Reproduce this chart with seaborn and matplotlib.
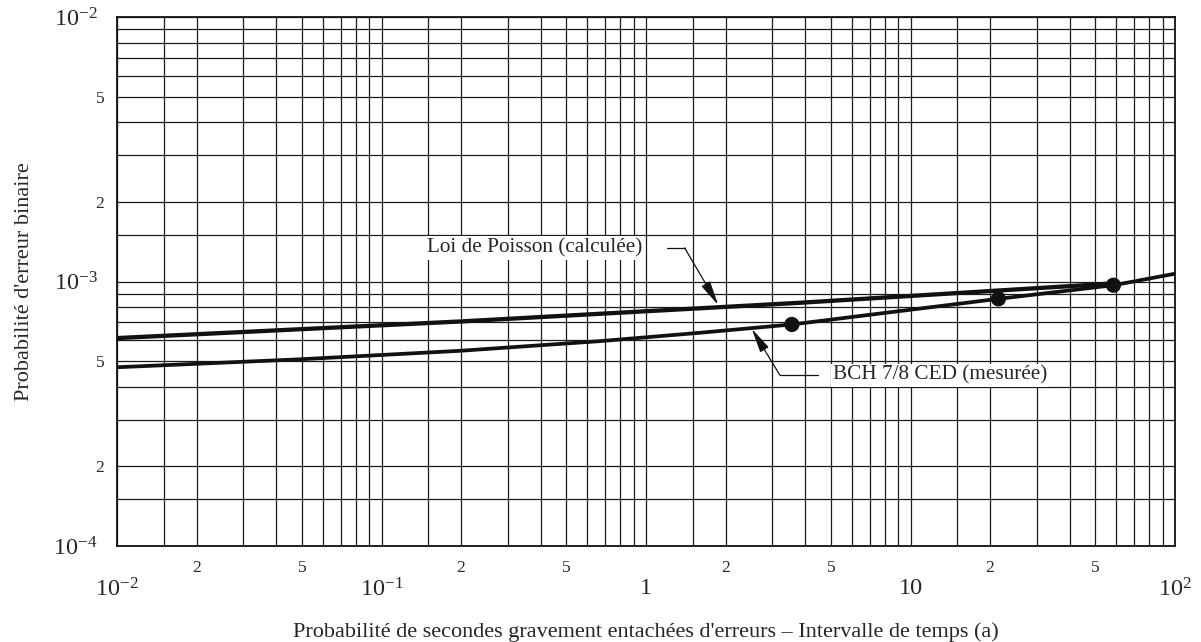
import numpy as np
import pandas as pd
import matplotlib
matplotlib.use("Agg")
import matplotlib.pyplot as plt
from matplotlib.ticker import FixedLocator, FuncFormatter
import seaborn as sns

# ---- data ----
poisson_x = [0.01, 0.198, 3.82, 58.3]
poisson_y = [6.11e-4, 7.06e-4, 8.31e-4, 9.83e-4]

bch_x = [0.01, 0.0492, 0.198, 0.67, 1.6, 3.56, 21.5, 58.5, 100]
bch_y = [4.74e-4, 5.08e-4, 5.47e-4, 5.95e-4, 6.4e-4, 6.88e-4, 8.6e-4, 9.68e-4, 1.07e-3]

meas_x = [3.56, 21.5, 58.5]
meas_y = [6.88e-4, 8.6e-4, 9.68e-4]

x_major = [1e-2, 1e-1, 1, 10, 1e2]
x_major_labels = [r"$10^{-2}$", r"$10^{-1}$", "1", "10", r"$10^{2}$"]
y_major = [1e-4, 1e-3, 1e-2]
y_major_labels = [r"$10^{-4}$", r"$10^{-3}$", r"$10^{-2}$"]
grid_mults = [1.5, 2, 3, 4, 5, 6, 7, 8, 9]
labelled_mults = [2, 5]

xlabel = "Probabilité de secondes gravement entachées d'erreurs – Intervalle de temps (a)"
ylabel = "Probabilité d'erreur binaire"
poisson_label = "Loi de Poisson (calculée)"
bch_label = "BCH 7/8 CED (mesurée)"

# ---- style ----
sns.set_style("white")
plt.rcParams["font.family"] = ["Liberation Serif", "DejaVu Serif"]
plt.rcParams["mathtext.fontset"] = "custom"
plt.rcParams["mathtext.rm"] = "Liberation Serif"
plt.rcParams["mathtext.it"] = "Liberation Serif:italic"
plt.rcParams["mathtext.bf"] = "Liberation Serif:bold"

fig = plt.figure(figsize=(12.01, 6.42), dpi=100)
ax = fig.add_axes([117 / 1201, 1 - 546 / 642, (1175 - 117) / 1201, (546 - 17) / 642])

ax.set_xscale("log")
ax.set_yscale("log")
ax.set_xlim(1e-2, 1e2)
ax.set_ylim(1e-4, 1e-2)

df_p = pd.DataFrame({"x": poisson_x, "y": poisson_y})
df_b = pd.DataFrame({"x": bch_x, "y": bch_y})
df_m = pd.DataFrame({"x": meas_x, "y": meas_y})

sns.lineplot(data=df_p, x="x", y="y", ax=ax, color="#111111", linewidth=3.1,
             estimator=None, sort=False, zorder=5)
sns.lineplot(data=df_b, x="x", y="y", ax=ax, color="#111111", linewidth=2.7,
             estimator=None, sort=False, zorder=5)
sns.scatterplot(data=df_m, x="x", y="y", ax=ax, color="#111111", s=120,
                edgecolor="none", zorder=6)

# ---- grid and ticks ----
def minor_positions(lo_exp, hi_exp):
    out = []
    for e in range(lo_exp, hi_exp):
        for m in grid_mults:
            out.append(m * 10.0 ** e)
    return out

ax.xaxis.set_major_locator(FixedLocator(x_major))
ax.xaxis.set_minor_locator(FixedLocator(minor_positions(-2, 2)))
ax.yaxis.set_major_locator(FixedLocator(y_major))
ax.yaxis.set_minor_locator(FixedLocator(minor_positions(-4, -2)))

ax.set_xticklabels(x_major_labels)
ax.set_yticklabels(y_major_labels)

def minor_fmt(v, pos):
    e = np.floor(np.log10(v) + 1e-9)
    m = v / 10 ** e
    for lm in labelled_mults:
        if abs(m - lm) < 1e-6:
            return str(lm)
    return ""

ax.xaxis.set_minor_formatter(FuncFormatter(minor_fmt))
ax.yaxis.set_minor_formatter(FuncFormatter(minor_fmt))

ax.grid(True, which="both", color="#1a1a1a", linewidth=0.9, zorder=0)
ax.set_axisbelow(True)

ax.tick_params(axis="both", which="both", length=0)
ax.tick_params(axis="x", which="major", pad=23, labelsize=17.5)
ax.tick_params(axis="x", which="minor", pad=10, labelsize=12.5)
ax.tick_params(axis="y", which="major", pad=14, labelsize=17.5)
ax.tick_params(axis="y", which="minor", pad=9, labelsize=12.5)

for s in ax.spines.values():
    s.set_color("#111111")
    s.set_linewidth(1.3)

ax.set_xlabel(xlabel, fontsize=16, labelpad=15)
ax.set_ylabel(ylabel, fontsize=16, labelpad=14)

# ---- annotations ----
arrow_style = "-|>,head_length=1.5,head_width=0.3"
ax.text(0.966, 1.34e-3, poisson_label, ha="right", va="center", fontsize=15.3,
        bbox=dict(facecolor="white", edgecolor="none", pad=1.5), zorder=7)
ax.plot([1.197, 1.40], [1.34e-3, 1.34e-3], color="#111111", linewidth=0.9, zorder=7)
ax.annotate("", xy=(1.875, 8.15e-4), xytext=(1.40, 1.34e-3),
            arrowprops=dict(arrowstyle=arrow_style, color="#111111",
                            linewidth=0.9, shrinkA=0, shrinkB=0),
            zorder=7)

ax.text(5.08, 4.42e-4, bch_label, ha="left", va="center", fontsize=15.3,
        bbox=dict(facecolor="white", edgecolor="none", pad=1.5), zorder=7)
ax.plot([3.21, 4.47], [4.42e-4, 4.42e-4], color="#111111", linewidth=0.9, zorder=7)
ax.annotate("", xy=(2.51, 6.63e-4), xytext=(3.21, 4.42e-4),
            arrowprops=dict(arrowstyle=arrow_style, color="#111111",
                            linewidth=0.9, shrinkA=0, shrinkB=0),
            zorder=7)

ax.set_xlim(1e-2, 1e2)
ax.set_ylim(1e-4, 1e-2)

fig.savefig("out.png", dpi=100)
